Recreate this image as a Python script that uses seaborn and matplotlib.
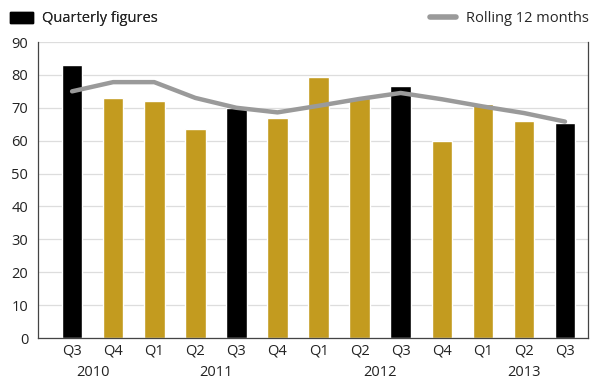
import matplotlib
matplotlib.use("Agg")
import matplotlib.pyplot as plt
import seaborn as sns
import pandas as pd
from matplotlib.patches import Patch
from matplotlib.lines import Line2D
from matplotlib.transforms import blended_transform_factory

quarters = ["Q3", "Q4", "Q1", "Q2", "Q3", "Q4", "Q1", "Q2", "Q3", "Q4", "Q1", "Q2", "Q3"]
years = ["2010", "2010", "2011", "2011", "2011", "2011", "2012", "2012", "2012", "2012", "2013", "2013", "2013"]
quarterly = [83, 73, 72, 63.5, 70, 67, 79.5, 73, 76.5, 60, 71, 66, 65.5]
rolling = [75, 77.8, 77.8, 73, 70, 68.6, 70.6, 72.7, 74.5, 72.6, 70.4, 68.4, 65.8]
year_labels = ["2010", "2011", "2012", "2013"]
year_centers = [0.5, 3.5, 7.5, 11]
year_bounds = [1.5, 5.5, 9.5]

sns.set_theme(style="white")
plt.rcParams['font.family'] = ['Open Sans', 'DejaVu Sans']

GOLD = "#C39B1F"
GRAY = "#9A9A9A"

df = pd.DataFrame({
    "label": [f"{q} {y}" for q, y in zip(quarters, years)],
    "value": quarterly,
    "kind": ["Q3" if q == "Q3" else "other" for q in quarters],
    "pos": list(range(len(quarters))),
    "rolling": rolling,
})

fig = plt.figure(figsize=(5.91, 3.80), dpi=100)
ax = fig.add_axes([38/591, 42/380, 550/591, 296/380])

sns.barplot(data=df, x="label", y="value", hue="kind",
            palette={"Q3": "black", "other": GOLD}, dodge=False,
            width=0.5, legend=False, ax=ax, saturation=1)
sns.lineplot(data=df, x="pos", y="rolling", color=GRAY, linewidth=3.2, ax=ax,
             legend=False, zorder=5)

ax.set_ylim(0, 90)
ax.set_xlim(-0.83, 12.56)
ax.set_yticks(range(0, 91, 10))
ax.yaxis.grid(True, color="#DDDDDD", linewidth=0.9)
ax.set_axisbelow(True)
ax.set_xlabel("")
ax.set_ylabel("")
ax.set_xticks(range(len(quarters)))
ax.set_xticklabels(quarters)
ax.set_xticks(year_bounds, minor=True)
ax.tick_params(axis="x", which="major", length=0, pad=4, labelsize=10.5, colors="#222222")
ax.tick_params(axis="x", which="minor", length=7, width=0.9, color="#444444", direction="out")
ax.tick_params(axis="y", length=0, pad=7, labelsize=10.5, colors="#222222")

for s in ["left", "right", "bottom"]:
    ax.spines[s].set_color("#444444")
    ax.spines[s].set_linewidth(0.9)
ax.spines["top"].set_visible(False)

trans = blended_transform_factory(ax.transData, ax.transAxes)
for lab, c in zip(year_labels, year_centers):
    ax.text(c, -35/296, lab, transform=trans, ha="center", va="center",
            fontsize=10.5, color="#222222")

leg1 = fig.legend(handles=[Patch(facecolor="black", edgecolor="black")],
                  labels=["Quarterly figures"], loc="center left",
                  bbox_to_anchor=(10/591, 1 - 19/380), frameon=False,
                  fontsize=10.5, handlelength=1.6, handleheight=0.8,
                  handletextpad=0.6, borderpad=0, borderaxespad=0)
fig.add_artist(leg1)
fig.legend(handles=[Line2D([0], [0], color=GRAY, linewidth=4)],
           labels=["Rolling 12 months"], loc="center right",
           bbox_to_anchor=(589/591, 1 - 19/380), frameon=False,
           fontsize=10.5, handlelength=1.8, handletextpad=0.7,
           borderpad=0, borderaxespad=0)

fig.savefig("out.png", dpi=100)
